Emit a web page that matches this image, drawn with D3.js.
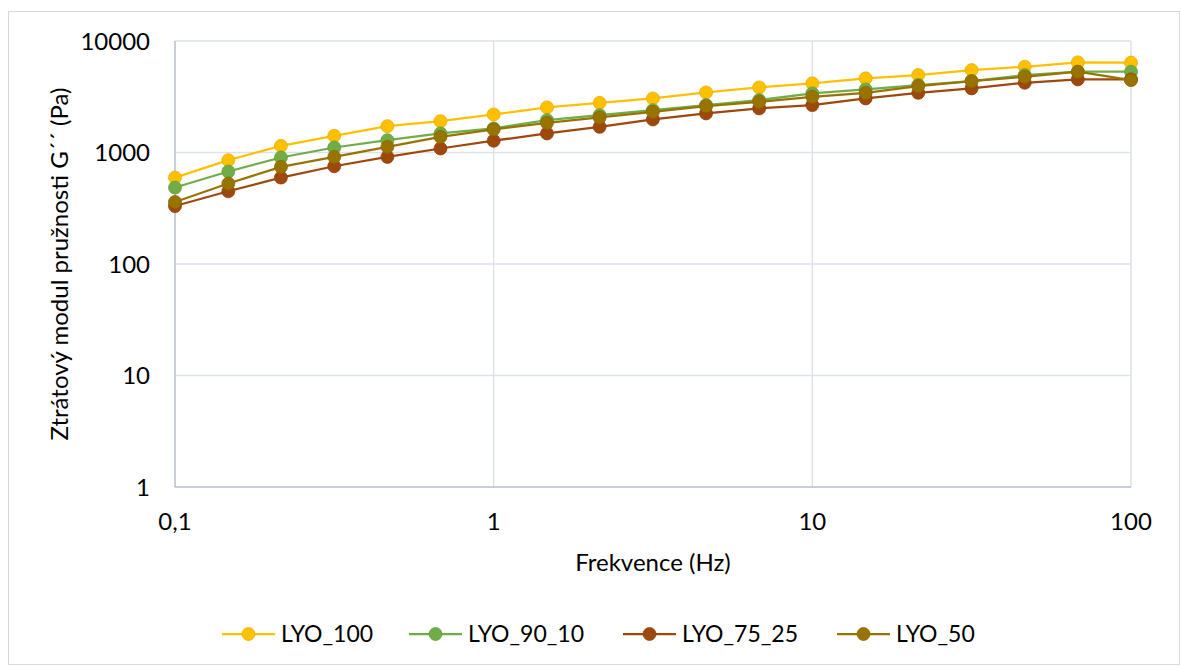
<!DOCTYPE html>
<html>
<head>
<meta charset="utf-8">
<script src="https://cdn.jsdelivr.net/npm/d3@7"></script>
<style>
  body { margin: 0; background: #fff; }
  text { font-family: Lato, "Open Sans", sans-serif; fill: #000; }
</style>
</head>
<body>
<div id="chart"></div>
<script>
// Data
const freq = [0.1, 0.147, 0.215, 0.316, 0.464, 0.681, 1, 1.47, 2.15, 3.16, 4.64, 6.81, 10, 14.7, 21.5, 31.6, 46.4, 68.1, 100];
const lyo100 = [596, 853, 1147, 1410, 1723, 1911, 2195, 2537, 2790, 3056, 3461, 3837, 4169, 4624, 4950, 5488, 5875, 6436, 6400];
const lyo90_10 = [485, 675, 902, 1109, 1290, 1482, 1643, 1950, 2163, 2399, 2661, 2951, 3388, 3681, 4024, 4371, 4950, 5300, 5300];
const lyo75_25 = [331, 449, 596, 753, 913, 1086, 1275, 1482, 1698, 1979, 2241, 2485, 2661, 3056, 3431, 3758, 4221, 4527, 4527];
const lyo50 = [360, 527, 743, 913, 1123, 1380, 1615, 1845, 2063, 2316, 2606, 2849, 3160, 3431, 3944, 4371, 4779, 5300, 4463];
const seriesNames = ["LYO_100", "LYO_90_10", "LYO_75_25", "LYO_50"];
const seriesValues = [lyo100, lyo90_10, lyo75_25, lyo50];
const xTicks = [0.1, 1, 10, 100];
const xTickLabels = ["0,1", "1", "10", "100"];
const yTicks = [1, 10, 100, 1000, 10000];
const yTickLabels = ["1", "10", "100", "1000", "10000"];

// Dimensions
const dims = {width: 1181, height: 666};
const plot = {left: 175, right: 1131, top: 41, bottom: 487};
const colours = ["#FFC000", "#70AD47", "#9E480E", "#997300"];

// SVG
const svg = d3.select('#chart')
  .append('svg')
  .attr('width', dims.width)
  .attr('height', dims.height);

// Chart border
svg.append('rect')
  .attr('x', 8.5).attr('y', 11.5)
  .attr('width', 1171).attr('height', 653)
  .attr('fill', '#fff')
  .attr('stroke', '#d9d9d9')
  .attr('stroke-width', 1);

// Scales
const x = d3.scaleLog().domain([0.1, 100]).range([plot.left, plot.right]);
const y = d3.scaleLog().domain([1, 10000]).range([plot.bottom, plot.top]);

// Gridlines
const grid = svg.append('g').attr('class', 'grid');
grid.selectAll('line.h')
  .data(yTicks.slice(1))
  .enter().append('line')
    .attr('x1', plot.left).attr('x2', plot.right)
    .attr('y1', d => y(d)).attr('y2', d => y(d))
    .attr('stroke', '#dde1e8').attr('stroke-width', 1.5);
grid.selectAll('line.v')
  .data(xTicks.slice(1))
  .enter().append('line')
    .attr('x1', d => x(d)).attr('x2', d => x(d))
    .attr('y1', plot.top).attr('y2', plot.bottom)
    .attr('stroke', '#dde1e8').attr('stroke-width', 1.5);

// Axis lines
svg.append('line')
  .attr('x1', plot.left).attr('x2', plot.left)
  .attr('y1', plot.top).attr('y2', plot.bottom)
  .attr('stroke', '#b4bfd0').attr('stroke-width', 1.5);
svg.append('line')
  .attr('x1', plot.left).attr('x2', plot.right)
  .attr('y1', plot.bottom).attr('y2', plot.bottom)
  .attr('stroke', '#b4bfd0').attr('stroke-width', 1.5);

// Tick labels
svg.append('g').selectAll('text')
  .data(yTicks)
  .enter().append('text')
    .attr('x', 150)
    .attr('y', d => y(d))
    .attr('dy', '0.36em')
    .attr('text-anchor', 'end')
    .style('font-size', '24px')
    .text((d, i) => yTickLabels[i]);

svg.append('g').selectAll('text')
  .data(xTicks)
  .enter().append('text')
    .attr('x', d => x(d))
    .attr('y', 530)
    .attr('text-anchor', 'middle')
    .style('font-size', '24px')
    .text((d, i) => xTickLabels[i]);

// Axis titles
svg.append('text')
  .attr('x', (plot.left + plot.right) / 2)
  .attr('y', 571)
  .attr('text-anchor', 'middle')
  .style('font-size', '24px')
  .text('Frekvence (Hz)');

svg.append('text')
  .attr('transform', `translate(68, ${(plot.top + plot.bottom) / 2}) rotate(-90)`)
  .attr('text-anchor', 'middle')
  .style('font-size', '24px')
  .text('Ztrátový modul pružnosti G´´ (Pa)');

// Line function
const line = d3.line()
  .x((d, i) => x(freq[i]))
  .y(d => y(d));

// Series
const series = svg.append('g').attr('class', 'series')
  .selectAll('g')
  .data(seriesValues)
  .enter().append('g');

series.append('path')
  .attr('d', d => line(d))
  .attr('fill', 'none')
  .attr('stroke', (d, i) => colours[i])
  .attr('stroke-width', 2.25);

series.each(function(vals, si) {
  d3.select(this).selectAll('circle')
    .data(vals)
    .enter().append('circle')
      .attr('cx', (d, i) => x(freq[i]))
      .attr('cy', d => y(d))
      .attr('r', 6.5)
      .attr('fill', colours[si])
      .attr('stroke', d3.color(colours[si]).darker(0.3))
      .attr('stroke-width', 0.75);
});

// Legend
const legendStarts = [222, 409, 623, 837];
const legendY = 634;
const legend = svg.append('g').attr('class', 'legend')
  .selectAll('g')
  .data(seriesNames)
  .enter().append('g')
    .attr('transform', (d, i) => `translate(${legendStarts[i]}, ${legendY})`);

legend.append('line')
  .attr('x1', 0).attr('x2', 53)
  .attr('y1', 0).attr('y2', 0)
  .attr('stroke', (d, i) => colours[i])
  .attr('stroke-width', 2.25);

legend.append('circle')
  .attr('cx', 26.5).attr('cy', 0)
  .attr('r', 6.5)
  .attr('fill', (d, i) => colours[i])
  .attr('stroke', (d, i) => d3.color(colours[i]).darker(0.3))
  .attr('stroke-width', 0.75);

legend.append('text')
  .attr('x', 59)
  .attr('y', 0)
  .attr('dy', '0.36em')
  .style('font-size', '23px')
  .text(d => d);
</script>
</body>
</html>
